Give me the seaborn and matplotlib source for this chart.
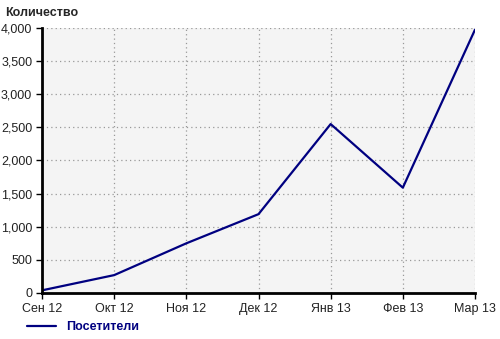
import matplotlib
matplotlib.use("Agg")
import matplotlib.pyplot as plt
import seaborn as sns
import pandas as pd
from matplotlib.ticker import FuncFormatter
from matplotlib.lines import Line2D

months = ["Сен 12", "Окт 12", "Ноя 12", "Дек 12", "Янв 13", "Фев 13", "Мар 13"]
visitors = [40, 270, 750, 1190, 2550, 1590, 3975]
series_name = "Посетители"
y_label = "Количество"
y_ticks = [0, 500, 1000, 1500, 2000, 2500, 3000, 3500, 4000]

sns.set_style("white")
plt.rcParams['font.family'] = ['Liberation Sans', 'DejaVu Sans']

df = pd.DataFrame({"month": months, "value": visitors, "series": series_name})
df["x"] = range(len(months))

fig = plt.figure(figsize=(5.0, 3.39), dpi=100)
ax = fig.add_axes([0.084, 0.1357, 0.866, 0.7817])
ax.set_facecolor("#f4f4f4")

sns.lineplot(data=df, x="x", y="value", hue="series", palette=["#000080"],
             linewidth=1.6, ax=ax, legend=False)

ax.set_xlim(0, len(months) - 1)
ax.set_ylim(0, 4000)
ax.set_xticks(range(len(months)))
ax.set_xticklabels(months)
ax.set_yticks(y_ticks)
ax.yaxis.set_major_formatter(FuncFormatter(lambda v, p: f"{int(v):,}"))
ax.set_xlabel("")
ax.set_ylabel("")

ax.grid(True, color="#999999", linestyle=(0, (1, 2.5)), linewidth=0.9)
ax.set_axisbelow(True)
for s in ["top", "right"]:
    ax.spines[s].set_visible(False)
for s in ["left", "bottom"]:
    ax.spines[s].set_color("black")
    ax.spines[s].set_linewidth(2)
ax.tick_params(axis="both", direction="out", length=4, width=1, color="black",
               labelsize=9, labelcolor="#222222", pad=3,
               bottom=True, left=True)

fig.text(0.01, 0.962, y_label, fontsize=9, fontweight="bold", va="center", ha="left")

handle = Line2D([], [], color="#000080", linewidth=1.6)
leg = fig.legend([handle], [series_name], loc="center left",
                 bbox_to_anchor=(0.032, 0.035), frameon=False, fontsize=9,
                 handlelength=2.3, handletextpad=0.8)
for t in leg.get_texts():
    t.set_color("#000080")
    t.set_fontweight("bold")

fig.savefig("out.png", dpi=100, facecolor="white")
